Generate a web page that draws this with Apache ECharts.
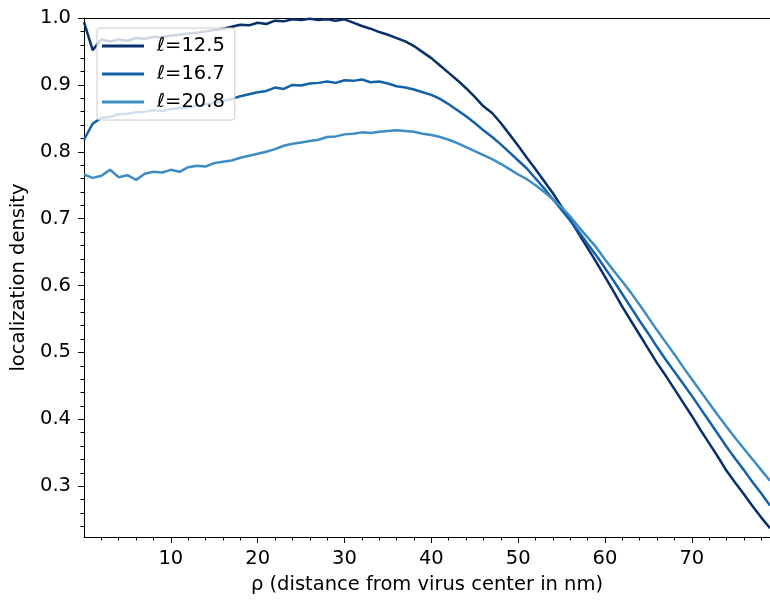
<!DOCTYPE html>
<html>
<head>
<meta charset="utf-8">
<script src="https://cdn.jsdelivr.net/npm/echarts@6/dist/echarts.min.js"></script>
<style>
html,body{margin:0;padding:0;background:#fff;}
#chart{width:770px;height:600px;}
</style>
</head>
<body>
<div id="chart"></div>
<script>
// ---- data ----
const rho = [0,1,2,3,4,5,6,7,8,9,10,11,12,13,14,15,16,17,18,19,20,21,22,23,24,25,26,27,28,29,30,31,32,33,34,35,36,37,38,39,40,41,42,43,44,45,46,47,48,49,50,51,52,53,54,55,56,57,58,59,60,61,62,63,64,65,66,67,68,69,70,71,72,73,74,75,76,77,78,79];

const seriesNames = ['\u2113=12.5', '\u2113=16.7', '\u2113=20.8'];

const dens125 = [0.994,0.952,0.968,0.965,0.968,0.966,0.970,0.969,0.972,0.971,0.974,0.975,0.977,0.978,0.980,0.982,0.984,0.987,0.990,0.989,
0.993,0.991,0.996,0.995,0.998,0.997,0.999,0.997,0.998,0.996,0.998,0.993,0.988,0.984,0.979,0.975,0.970,0.965,0.958,0.949,
0.940,0.929,0.918,0.907,0.895,0.882,0.868,0.858,0.843,0.826,0.809,0.791,0.774,0.756,0.738,0.718,0.698,0.677,0.656,0.635,
0.613,0.591,0.568,0.547,0.526,0.505,0.484,0.465,0.445,0.425,0.405,0.384,0.364,0.344,0.323,0.305,0.288,0.270,0.253,0.237];

const dens167 = [0.818,0.842,0.851,0.852,0.856,0.857,0.859,0.860,0.862,0.861,0.864,0.865,0.866,0.869,0.871,0.873,0.876,0.879,0.883,0.886,
0.889,0.891,0.896,0.894,0.900,0.899,0.902,0.903,0.905,0.903,0.907,0.906,0.908,0.904,0.905,0.902,0.898,0.896,0.893,0.889,
0.885,0.879,0.871,0.862,0.853,0.843,0.832,0.822,0.811,0.799,0.787,0.775,0.760,0.745,0.729,0.713,0.697,0.680,0.662,0.645,
0.626,0.607,0.587,0.567,0.547,0.528,0.508,0.489,0.471,0.453,0.435,0.416,0.397,0.378,0.359,0.341,0.324,0.306,0.289,0.271];

const dens208 = [0.766,0.761,0.764,0.773,0.762,0.765,0.758,0.767,0.770,0.769,0.773,0.770,0.777,0.779,0.778,0.783,0.785,0.787,0.791,0.794,
0.797,0.800,0.804,0.809,0.812,0.814,0.816,0.818,0.822,0.823,0.826,0.827,0.829,0.828,0.830,0.831,0.832,0.831,0.830,0.827,
0.825,0.822,0.818,0.813,0.807,0.801,0.795,0.789,0.782,0.774,0.766,0.759,0.750,0.740,0.729,0.717,0.703,0.687,0.672,0.657,
0.639,0.622,0.606,0.589,0.571,0.552,0.533,0.515,0.497,0.478,0.460,0.442,0.424,0.406,0.389,0.372,0.356,0.340,0.324,0.308];

const xMajorTicks = [10,20,30,40,50,60,70];
const xMinorTicks = [2,4,6,8,12,14,16,18,22,24,26,28,32,34,36,38,42,44,46,48,52,54,56,58,62,64,66,68,72,74,76,78];
const yMajorTicks = [0.3,0.4,0.5,0.6,0.7,0.8,0.9,1.0];
const yMinorTicks = [0.24,0.26,0.28,0.32,0.34,0.36,0.38,0.42,0.44,0.46,0.48,0.52,0.54,0.56,0.58,0.62,0.64,0.66,0.68,0.72,0.74,0.76,0.78,0.82,0.84,0.86,0.88,0.92,0.94,0.96,0.98];

const colors = ['#08306b', '#1361a9', '#3d8dc4'];
const FONT = 'DejaVu Sans';
const FS = 19.5;

function pairs(ys){ return rho.map((x,i)=>[x, ys[i]]); }

const X_MIN = 0, X_MAX = 79, Y_MIN = 0.224, Y_MAX = 1.0;

const chart = echarts.init(document.getElementById('chart'), null, {renderer:'canvas'});
chart.setOption({
  animation: false,
  backgroundColor: '#ffffff',
  color: colors,
  grid: {left: 84, top: 18, right: 0, bottom: 62, containLabel: false},
  legend: {
    left: 97, top: 28, orient: 'vertical',
    data: seriesNames,
    icon: 'rect', itemWidth: 42, itemHeight: 3, itemGap: 6,
    padding: [7, 10, 7, 5],
    backgroundColor: 'rgba(255,255,255,0.8)',
    borderColor: '#cccccc', borderWidth: 1, borderRadius: 3,
    textStyle: {fontFamily: FONT, fontSize: FS, color: '#000', lineHeight: 22, padding: [0,0,0,8]},
    z: 10
  },
  xAxis: [
    {
      type: 'value', min: X_MIN, max: X_MAX, position: 'bottom',
      name: '\u03c1 (distance from virus center in nm)', nameLocation: 'middle', nameGap: 38,
      nameTextStyle: {fontFamily: FONT, fontSize: FS, color: '#000'},
      axisLine: {show: true, onZero: false, lineStyle: {color: '#000', width: 1}},
      axisTick: {show: true, inside: false, length: 6, customValues: xMajorTicks, lineStyle: {color: '#000', width: 1}},
      axisLabel: {show: true, customValues: xMajorTicks, margin: 12, fontFamily: FONT, fontSize: FS, color: '#000'},
      splitLine: {show: false}
    },
    {
      type: 'value', min: X_MIN, max: X_MAX, position: 'bottom',
      axisLine: {show: false},
      axisTick: {show: true, inside: false, length: 3.5, customValues: xMinorTicks, lineStyle: {color: '#000', width: 1}},
      axisLabel: {show: false},
      splitLine: {show: false}
    },
    {
      type: 'value', min: X_MIN, max: X_MAX, position: 'top',
      axisLine: {show: true, lineStyle: {color: '#000', width: 1}},
      axisTick: {show: false}, axisLabel: {show: false}, splitLine: {show: false}
    }
  ],
  yAxis: [
    {
      type: 'value', min: Y_MIN, max: Y_MAX, position: 'left',
      name: 'localization density', nameLocation: 'middle', nameGap: 48,
      nameTextStyle: {fontFamily: FONT, fontSize: FS, color: '#000'},
      axisLine: {show: true, onZero: false, lineStyle: {color: '#000', width: 1}},
      axisTick: {show: true, inside: false, length: 6, customValues: yMajorTicks, lineStyle: {color: '#000', width: 1}},
      axisLabel: {show: true, customValues: yMajorTicks, margin: 13, fontFamily: FONT, fontSize: FS, color: '#000',
                  formatter: v => v.toFixed(1)},
      splitLine: {show: false}
    },
    {
      type: 'value', min: Y_MIN, max: Y_MAX, position: 'left',
      axisLine: {show: false},
      axisTick: {show: true, inside: false, length: 3.5, customValues: yMinorTicks, lineStyle: {color: '#000', width: 1}},
      axisLabel: {show: false},
      splitLine: {show: false}
    }
  ],
  series: [
    {name: seriesNames[0], type: 'line', data: pairs(dens125), showSymbol: false, symbol: 'none', xAxisIndex: 0, yAxisIndex: 0,
     lineStyle: {width: 2.5, color: colors[0]}, itemStyle: {color: colors[0]}, clip: true},
    {name: seriesNames[1], type: 'line', data: pairs(dens167), showSymbol: false, symbol: 'none', xAxisIndex: 0, yAxisIndex: 0,
     lineStyle: {width: 2.5, color: colors[1]}, itemStyle: {color: colors[1]}, clip: true},
    {name: seriesNames[2], type: 'line', data: pairs(dens208), showSymbol: false, symbol: 'none', xAxisIndex: 0, yAxisIndex: 0,
     lineStyle: {width: 2.5, color: colors[2]}, itemStyle: {color: colors[2]}, clip: true}
  ]
});
</script>
</body>
</html>
